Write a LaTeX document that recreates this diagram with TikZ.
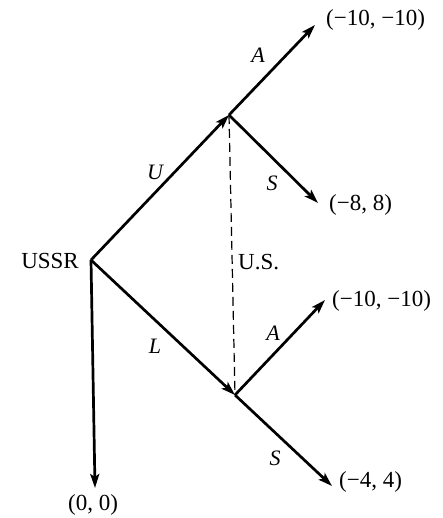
\documentclass[tikz,border=0pt]{standalone}
\usepackage{fontspec}
\setmainfont{Liberation Serif}
\usetikzlibrary{arrows.meta}
\begin{document}
\begin{tikzpicture}[x=1pt,y=1pt,
  branch/.style={line width=2.7pt,-{Stealth[length=14pt,width=9pt,inset=3pt]}},
  lbl/.style={font=\fontsize{23}{26}\selectfont,inner sep=0pt},
  act/.style={font=\fontsize{22}{26}\selectfont\itshape,inner sep=0pt}]
\useasboundingbox (0,0) rectangle (443,518);
% vertices
\coordinate (ussr) at (91,258);
\coordinate (up) at (229,403);
\coordinate (lo) at (235,123);
\coordinate (ua) at (315,493);
\coordinate (us) at (318,315);
\coordinate (la) at (325,218);
\coordinate (ls) at (332,32);
\coordinate (z) at (95,30);
% edges
\draw[branch] (ussr) -- (up);
\draw[branch] (ussr) -- (lo);
\draw[branch] (ussr) -- (z);
\draw[branch] (up) -- (ua);
\draw[branch] (up) -- (us);
\draw[branch] (lo) -- (la);
\draw[branch] (lo) -- (ls);
\draw[line width=1.2pt,dash pattern=on 9pt off 5pt] (up) -- (lo);
% labels
\node[lbl,anchor=east] (nussr) at (79,257) {USSR};
\node[lbl,anchor=west] (nus) at (238,256) {U.S.};
\node[lbl,anchor=west] (p1) at (326,498) {(−10, −10)};
\node[lbl,anchor=west] (p2) at (329,313) {(−8, 8)};
\node[lbl,anchor=west] (p3) at (332,217) {(−10, −10)};
\node[lbl,anchor=west] (p4) at (339,36) {(−4, 4)};
\node[lbl] (p5) at (93,13) {(0, 0)};
\node[act] (aU) at (155,346) {U};
\node[act] (aL) at (155,172) {L};
\node[act] (aA1) at (258,463) {A};
\node[act] (aS1) at (272,335) {S};
\node[act] (aA2) at (273,185) {A};
\node[act] (aS2) at (275,60) {S};
\end{tikzpicture}
\end{document}
